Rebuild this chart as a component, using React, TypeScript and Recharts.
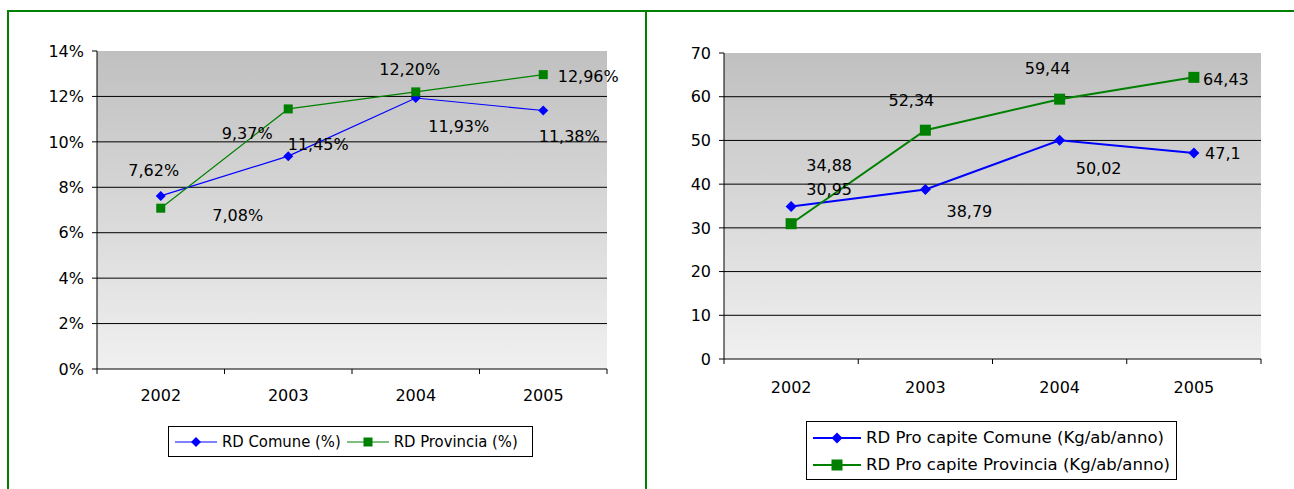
import React from 'react';
import { LineChart, Line, XAxis, YAxis, CartesianGrid, LabelList } from 'recharts';

// ---------- data ----------
const years = ['2002', '2003', '2004', '2005'];
const rdComunePct = [7.62, 9.37, 11.93, 11.38];
const rdProvinciaPct = [7.08, 11.45, 12.2, 12.96];
const pctTicks = [0, 2, 4, 6, 8, 10, 12, 14];

const proCapiteComune = [34.88, 38.79, 50.02, 47.1];
const proCapiteProvincia = [30.95, 52.34, 59.44, 64.43];
const kgTicks = [0, 10, 20, 30, 40, 50, 60, 70];

const leftNames = ['RD Comune (%)', 'RD Provincia (%)'];
const rightNames = ['RD Pro capite Comune (Kg/ab/anno)', 'RD Pro capite Provincia (Kg/ab/anno)'];

const leftData = years.map((y, i) => ({ year: y, comune: rdComunePct[i], provincia: rdProvinciaPct[i] }));
const rightData = years.map((y, i) => ({ year: y, comune: proCapiteComune[i], provincia: proCapiteProvincia[i] }));

// ---------- style ----------
const FONT = '"DejaVu Sans", Verdana, sans-serif';
const FONT_COND = '"DejaVu Sans Condensed", "DejaVu Sans", sans-serif';
const BLUE = '#0000ff';
const GREEN = '#008000';

// label offsets (dx, dy) relative to each point, as in the original chart
const leftComuneOff = [[-7, -25], [-41, -23], [43, 28], [26, 26]];
const leftProvOff = [[77, 7], [30, 36], [-6, -22], [45, 2]];
const rightComuneOff = [[38, -41], [44, 22], [39, 28], [29, 0]];
const rightProvOff = [[38, -34], [-14, -30], [-12, -31], [32, 2]];

const fmtPct = (v: number) => v.toFixed(2).replace('.', ',') + '%';
const fmtNum = (v: number) => String(v).replace('.', ',');

const makeLabel = (offs: number[][], fmt: (v: number) => string) => (props: any) => {
  const { x, y, value, index } = props;
  const [dx, dy] = offs[index] || [0, 0];
  return (
    <text x={x + dx} y={y + dy} textAnchor="middle" dominantBaseline="central"
      fontFamily={FONT} fontSize={16} fill="#000">
      {fmt(value)}
    </text>
  );
};

const diamondPath = (cx: number, cy: number, r: number) =>
  `M${cx},${cy - r}L${cx + r},${cy}L${cx},${cy + r}L${cx - r},${cy}Z`;

const makeDiamondDot = (r: number, id: string) => (p: any) => (
  <path key={`${id}${p.index}`} d={diamondPath(p.cx, p.cy, r)} fill={BLUE} />
);
const makeSquareDot = (r: number, id: string) => (p: any) => (
  <rect key={`${id}${p.index}`} x={p.cx - r} y={p.cy - r} width={2 * r} height={2 * r} fill={GREEN} />
);

const makeXTick = (halfBand: number, labelDy: number, n: number) => (props: any) => {
  const { x, y, payload, index } = props;
  return (
    <g>
      <line x1={x - halfBand} y1={y} x2={x - halfBand} y2={y + 5} stroke="#000" />
      {index === n - 1 && <line x1={x + halfBand} y1={y} x2={x + halfBand} y2={y + 5} stroke="#000" />}
      <text x={x} y={y + labelDy} textAnchor="middle" dominantBaseline="central"
        fontFamily={FONT} fontSize={16} fill="#000">{payload.value}</text>
    </g>
  );
};

const Gradient = ({ id }: { id: string }) => (
  <defs>
    <linearGradient id={id} x1="0" y1="0" x2="0" y2="1">
      <stop offset="0%" stopColor="#c0c0c0" />
      <stop offset="100%" stopColor="#f0f0f0" />
    </linearGradient>
  </defs>
);

// ---------- left chart ----------
const L_W = 645, L_H = 489;
const L_M = { top: 51, right: 38, bottom: 80, left: 37 };
const L_YW = 60, L_XH = 40;
const L_PLOT_W = L_W - L_M.left - L_YW - L_M.right;
const L_HALF = L_PLOT_W / years.length / 2;

const LeftChart = () => (
  <LineChart width={L_W} height={L_H} data={leftData} margin={L_M}>
    <Gradient id="gradL" />
    <CartesianGrid vertical={false} stroke="#000" fill="url(#gradL)" fillOpacity={1}
      horizontalValues={[2, 4, 6, 8, 10, 12]} />
    <XAxis dataKey="year" height={L_XH} padding={{ left: L_HALF, right: L_HALF }}
      tickLine={false} tickSize={0} tickMargin={0} axisLine={{ stroke: '#000' }}
      tick={makeXTick(L_HALF, 26, years.length)} interval={0} />
    <XAxis xAxisId="top" orientation="top" dataKey="year" height={0} tick={false}
      tickLine={false} axisLine={{ stroke: '#808080' }} />
    <YAxis width={L_YW} domain={[0, 14]} ticks={pctTicks} interval={0}
      tickFormatter={(v: number) => `${v}%`} tickSize={5} tickMargin={8}
      tick={{ fontSize: 16, fontFamily: FONT, fill: '#000' }}
      tickLine={{ stroke: '#000' }} axisLine={{ stroke: '#000' }} />
    <YAxis yAxisId="right" orientation="right" width={0} domain={[0, 1]} tick={false}
      tickLine={false} axisLine={{ stroke: '#808080' }} />
    <Line dataKey="comune" name={leftNames[0]} stroke={BLUE} strokeWidth={1.2}
      isAnimationActive={false} dot={makeDiamondDot(5, 'lc')}>
      <LabelList dataKey="comune" content={makeLabel(leftComuneOff, fmtPct)} />
    </Line>
    <Line dataKey="provincia" name={leftNames[1]} stroke={GREEN} strokeWidth={1.2}
      isAnimationActive={false} dot={makeSquareDot(4.5, 'lp')}>
      <LabelList dataKey="provincia" content={makeLabel(leftProvOff, fmtPct)} />
    </Line>
  </LineChart>
);

// ---------- right chart ----------
const R_W = 647, R_H = 489;
const R_M = { top: 53, right: 33, bottom: 90, left: 37 };
const R_YW = 40, R_XH = 40;
const R_PLOT_W = R_W - R_M.left - R_YW - R_M.right;
const R_HALF = R_PLOT_W / years.length / 2;

const RightChart = () => (
  <LineChart width={R_W} height={R_H} data={rightData} margin={R_M}>
    <Gradient id="gradR" />
    <CartesianGrid vertical={false} stroke="#000" fill="url(#gradR)" fillOpacity={1}
      horizontalValues={[10, 20, 30, 40, 50, 60]} />
    <XAxis dataKey="year" height={R_XH} padding={{ left: R_HALF, right: R_HALF }}
      tickLine={false} tickSize={0} tickMargin={0} axisLine={{ stroke: '#000' }}
      tick={makeXTick(R_HALF, 28, years.length)} interval={0} />
    <XAxis xAxisId="top" orientation="top" dataKey="year" height={0} tick={false}
      tickLine={false} axisLine={{ stroke: '#808080' }} />
    <YAxis width={R_YW} domain={[0, 70]} ticks={kgTicks} interval={0}
      tickSize={5} tickMargin={8}
      tick={{ fontSize: 16, fontFamily: FONT, fill: '#000' }}
      tickLine={{ stroke: '#000' }} axisLine={{ stroke: '#000' }} />
    <YAxis yAxisId="right" orientation="right" width={0} domain={[0, 1]} tick={false}
      tickLine={false} axisLine={{ stroke: '#808080' }} />
    <Line dataKey="comune" name={rightNames[0]} stroke={BLUE} strokeWidth={2}
      isAnimationActive={false} dot={makeDiamondDot(5.5, 'rc')}>
      <LabelList dataKey="comune" content={makeLabel(rightComuneOff, fmtNum)} />
    </Line>
    <Line dataKey="provincia" name={rightNames[1]} stroke={GREEN} strokeWidth={2}
      isAnimationActive={false} dot={makeSquareDot(5.5, 'rp')}>
      <LabelList dataKey="provincia" content={makeLabel(rightProvOff, fmtNum)} />
    </Line>
  </LineChart>
);

// ---------- legends ----------
const LegendSymbol = ({ color, kind, w, r, sw }: { color: string; kind: 'diamond' | 'square'; w: number; r: number; sw: number }) => (
  <svg width={w} height={14} style={{ display: 'block', flex: 'none' }}>
    <line x1={0} y1={7} x2={w} y2={7} stroke={color} strokeWidth={sw} />
    {kind === 'diamond'
      ? <path d={diamondPath(w / 2, 7, r)} fill={color} />
      : <rect x={w / 2 - r} y={7 - r} width={2 * r} height={2 * r} fill={color} />}
  </svg>
);

const LeftLegend = () => (
  <div style={{
    position: 'absolute', left: 168, top: 426, width: 365, height: 31, boxSizing: 'border-box',
    border: '1px solid #000', background: '#fff', display: 'flex', alignItems: 'center',
    paddingLeft: 6, fontFamily: FONT_COND, fontSize: 16.5, color: '#000', whiteSpace: 'nowrap',
  }}>
    <LegendSymbol color={BLUE} kind="diamond" w={42} r={5} sw={1.2} />
    <span style={{ marginLeft: 5 }}>{leftNames[0]}</span>
    <span style={{ marginLeft: 6 }}><LegendSymbol color={GREEN} kind="square" w={42} r={4.5} sw={1.2} /></span>
    <span style={{ marginLeft: 5 }}>{leftNames[1]}</span>
  </div>
);

const RightLegend = () => (
  <div style={{
    position: 'absolute', left: 806, top: 421, width: 371, height: 59, boxSizing: 'border-box',
    border: '1px solid #000', background: '#fff', paddingLeft: 6, paddingTop: 2,
    fontFamily: FONT, fontSize: 16.5, color: '#000', whiteSpace: 'nowrap',
  }}>
    {[0, 1].map((i) => (
      <div key={i} style={{ display: 'flex', alignItems: 'center', height: 27 }}>
        <LegendSymbol color={i === 0 ? BLUE : GREEN} kind={i === 0 ? 'diamond' : 'square'} w={48} r={5.5} sw={2} />
        <span style={{ marginLeft: 5 }}>{rightNames[i]}</span>
      </div>
    ))}
  </div>
);

// ---------- app ----------
export default function App() {
  return (
    <div style={{ position: 'relative', width: 1294, height: 489, background: '#fff', overflow: 'hidden' }}>
      <style>{'body{margin:0;overflow:hidden;}'}</style>
      <div style={{ position: 'absolute', left: 0, top: 0 }}><LeftChart /></div>
      <div style={{ position: 'absolute', left: 647, top: 0 }}><RightChart /></div>
      <LeftLegend />
      <RightLegend />
      <div style={{ position: 'absolute', left: 7, top: 10, width: 1287, height: 2, background: GREEN }} />
      <div style={{ position: 'absolute', left: 7, top: 10, width: 2, height: 479, background: GREEN }} />
      <div style={{ position: 'absolute', left: 645, top: 10, width: 2, height: 479, background: GREEN }} />
    </div>
  );
}
